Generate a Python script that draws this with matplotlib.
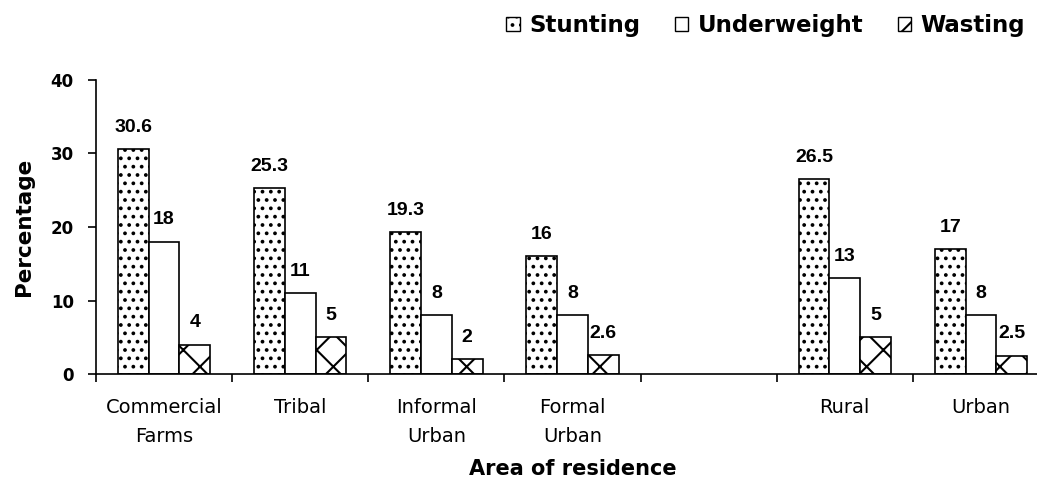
import numpy as np
import matplotlib
matplotlib.use('Agg')
import matplotlib.pyplot as plt
from matplotlib.patches import Rectangle

# données (la case vide sépare les deux groupes)
categories = ['Commercial\nFarms', 'Tribal', 'Informal\nUrban', 'Formal\nUrban', '', 'Rural', 'Urban']
stunting = [30.6, 25.3, 19.3, 16, np.nan, 26.5, 17]
underweight = [18, 11, 8, 8, np.nan, 13, 8]
wasting = [4, 5, 2, 2.6, np.nan, 5, 2.5]
series_names = ['Stunting', 'Underweight', 'Wasting']
hatches = ['..', '', 'x']
yticks = [0, 10, 20, 30, 40]

plt.rcParams['font.family'] = 'DejaVu Sans'
plt.rcParams['hatch.linewidth'] = 1.5

fig = plt.figure(figsize=(10.37, 4.82), dpi=100)
ax = fig.add_axes([96 / 1037, 108 / 482, (1049 - 96) / 1037, 294 / 482])

x = np.arange(len(categories))
w = 0.226
for i, (vals, h) in enumerate(zip([stunting, underweight, wasting], hatches)):
    bars = ax.bar(x + 0.5 + (i - 1) * w, vals, width=w, facecolor='white',
                  edgecolor='black', linewidth=1.2, hatch=h)
    for b, v in zip(bars, vals):
        if np.isnan(v):
            continue
        ax.annotate(f'{v:g}', (b.get_x() + b.get_width() / 2, v),
                    xytext=(0, 12.5), textcoords='offset points',
                    ha='center', va='baseline', fontsize=14,
                    fontweight='bold', family='Liberation Sans')

ax.set_xlim(0, len(categories))
ax.set_ylim(0, 40)
ax.spines['top'].set_visible(False)
ax.spines['right'].set_visible(False)
ax.spines['left'].set_linewidth(1.2)
ax.spines['bottom'].set_linewidth(1.2)

ax.set_xticks(np.arange(len(categories) + 1))
ax.set_xticklabels([])
ax.set_xticks(x + 0.5, minor=True)
ax.set_xticklabels(categories, minor=True, fontsize=14, linespacing=1.65)
ax.tick_params(axis='x', which='major', length=6, width=1.2, direction='out')
ax.tick_params(axis='x', which='minor', length=0, pad=17.5)

ax.set_yticks(yticks)
ax.set_yticklabels([str(t) for t in yticks], fontsize=12, fontweight='bold')
ax.tick_params(axis='y', length=6, width=1.2, pad=10)

ax.set_xlabel('Area of residence', fontsize=15, fontweight='bold', labelpad=9)
ax.set_ylabel('Percentage', fontsize=15.5, fontweight='bold', labelpad=12)

handles = [Rectangle((0, 0), 1, 1, facecolor='white', edgecolor='black',
                     linewidth=1.0, hatch=h) for h in hatches]
fig.legend(handles, series_names, loc='upper right',
           bbox_to_anchor=(1025 / 1037, 1 - 14 / 482), ncol=3, frameon=False,
           prop={'size': 16.5, 'weight': 'bold'}, handlelength=0.6,
           handleheight=0.6, handletextpad=0.4, columnspacing=1.5,
           borderpad=0, borderaxespad=0)

fig.savefig('out.png', dpi=100)
